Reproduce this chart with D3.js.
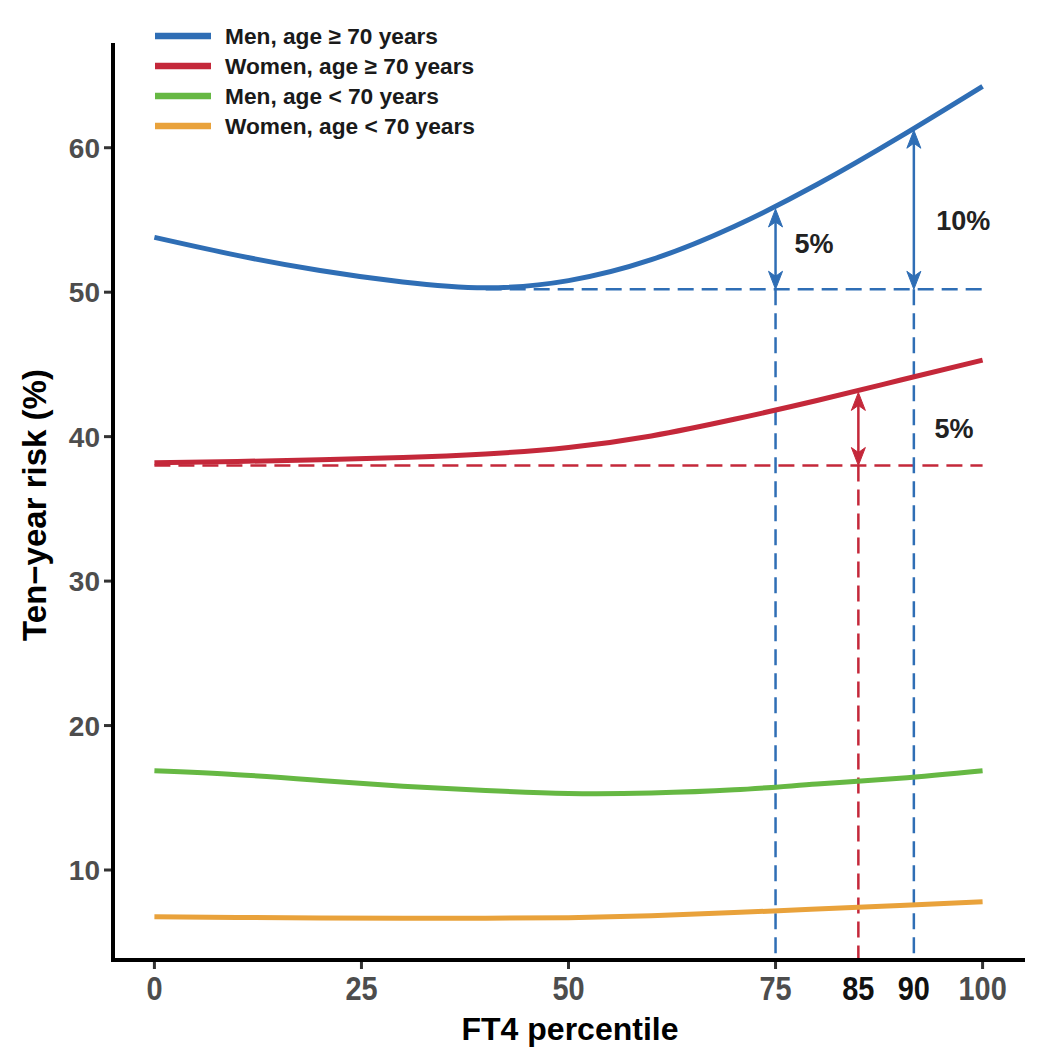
<!DOCTYPE html>
<html>
<head>
<meta charset="utf-8">
<script src="https://cdn.jsdelivr.net/npm/d3@7"></script>
<style>
  body { margin: 0; background: #fff; }
  svg text { font-family: Arial, "Liberation Sans", sans-serif; }
</style>
</head>
<body>
<svg id="chart" width="1047" height="1050"></svg>
<script>
// FT4 percentile grid
const pct = [0, 10, 20, 30, 40, 50, 60, 70, 80, 90, 100];

// ten-year risk (%) per group
const menOld   = [53.8, 52.55, 51.5, 50.7, 50.3, 50.8, 52.25, 54.55, 57.45, 60.75, 64.25];
const womenOld = [38.2, 38.28, 38.4, 38.55, 38.8, 39.25, 40.05, 41.2, 42.5, 43.9, 45.3];
const menYoung = [16.87, 16.6, 16.2, 15.8, 15.5, 15.3, 15.33, 15.55, 15.95, 16.35, 16.87];
const womenYoung = [6.77, 6.72, 6.68, 6.66, 6.66, 6.7, 6.84, 7.05, 7.3, 7.55, 7.8];

const groups = ["Men, age \u2265 70 years", "Women, age \u2265 70 years",
                "Men, age < 70 years", "Women, age < 70 years"];
const colors = ["#2F6EB5", "#C4283A", "#66B843", "#E9A23B"];
const series = [menOld, womenOld, menYoung, womenYoung];

const xTicks = [0, 25, 50, 75, 100];
const yTicks = [10, 20, 30, 40, 50, 60];

// reference levels and marked percentiles
const blueBase = 50.2, blueBaseFrom = 40;
const redBase = 38.0;
const markX = [75, 91.7, 85];          // where the arrows sit
const markLab = ["75", "90", "85"];
const markGroup = [0, 0, 1];
const markTop = [55.9, 61.35, 43.2];    // curve value at the mark
const noteText = ["5%", "10%", "5%"];
const noteX = [77.3, 94.4, 94.2];
const noteY = [52.7, 54.3, 39.9];

const svg = d3.select("#chart");
const x = d3.scaleLinear().domain([-5, 105]).range([113, 1024]);
const y = d3.scaleLinear().domain([3.77, 67.25]).range([960, 43]);

// dashed reference lines
const dash = "16,8";
svg.append("line")
  .attr("x1", x(blueBaseFrom)).attr("x2", x(100))
  .attr("y1", y(blueBase)).attr("y2", y(blueBase))
  .attr("stroke", colors[0]).attr("stroke-width", 2.5).attr("stroke-dasharray", dash);
svg.append("line")
  .attr("x1", x(0)).attr("x2", x(100))
  .attr("y1", y(redBase)).attr("y2", y(redBase))
  .attr("stroke", colors[1]).attr("stroke-width", 2.5).attr("stroke-dasharray", dash);

markX.forEach((mx, i) => {
  const base = markGroup[i] == 0 ? blueBase : redBase;
  svg.append("line")
    .attr("x1", x(mx)).attr("x2", x(mx))
    .attr("y1", y(base)).attr("y2", y.range()[0])
    .attr("stroke", colors[markGroup[i]]).attr("stroke-width", 2.5)
    .attr("stroke-dasharray", dash);
});

// curves
const line = d3.line()
  .x((d, i) => x(pct[i]))
  .y(d => y(d))
  .curve(d3.curveNatural);

series.forEach((s, i) => {
  svg.append("path")
    .attr("d", line(s))
    .attr("fill", "none")
    .attr("stroke", colors[i])
    .attr("stroke-width", 5)
    .attr("stroke-linecap", "butt");
});

// double arrows
function head(px, py, dir, col) {
  // dir = -1 points up, 1 points down
  const p = [[0, 0], [-7, -18 * dir], [0, -13 * dir], [7, -18 * dir]];
  svg.append("path")
    .attr("d", "M" + p.map(q => (px + q[0]) + "," + (py + q[1])).join("L") + "Z")
    .attr("fill", col).attr("stroke", col).attr("stroke-width", 1);
}
markX.forEach((mx, i) => {
  const col = colors[markGroup[i]];
  const base = markGroup[i] == 0 ? blueBase : redBase;
  const y0 = y(base), y1 = y(markTop[i]) + 2;
  svg.append("line")
    .attr("x1", x(mx)).attr("x2", x(mx))
    .attr("y1", y0 - 6).attr("y2", y1 + 6)
    .attr("stroke", col).attr("stroke-width", 2.5);
  head(x(mx), y1, -1, col);
  head(x(mx), y0, 1, col);
});

noteText.forEach((t, i) => {
  svg.append("text")
    .attr("x", x(noteX[i])).attr("y", y(noteY[i]))
    .attr("font-size", 27).attr("font-weight", "bold").attr("fill", "#222")
    .text(t);
});

// axes
svg.append("line").attr("x1", 113).attr("x2", 113).attr("y1", 43).attr("y2", 962)
  .attr("stroke", "#000").attr("stroke-width", 4);
svg.append("line").attr("x1", 111).attr("x2", 1025).attr("y1", 960).attr("y2", 960)
  .attr("stroke", "#000").attr("stroke-width", 4);

yTicks.forEach(t => {
  svg.append("line").attr("x1", 104).attr("x2", 111).attr("y1", y(t)).attr("y2", y(t))
    .attr("stroke", "#333").attr("stroke-width", 3);
  svg.append("text")
    .attr("x", 100).attr("y", y(t)).attr("dy", "0.36em")
    .attr("text-anchor", "end").attr("font-size", 28).attr("font-weight", "bold")
    .attr("fill", "#4D4D4D").text(t);
});

xTicks.forEach(t => {
  svg.append("line").attr("x1", x(t)).attr("x2", x(t)).attr("y1", 962).attr("y2", 969)
    .attr("stroke", "#333").attr("stroke-width", 3);
  svg.append("text")
    .attr("transform", `translate(${x(t)},1000) scale(0.85,1)`)
    .attr("text-anchor", "middle").attr("font-size", 34).attr("font-weight", "bold")
    .attr("fill", "#4D4D4D").text(t);
});
// extra labels for the marked percentiles (no tick marks)
markX.forEach((mx, i) => {
  if (markLab[i] == "75") return;
  svg.append("text")
    .attr("transform", `translate(${x(mx)},1000) scale(0.85,1)`)
    .attr("text-anchor", "middle").attr("font-size", 34).attr("font-weight", "bold")
    .attr("fill", "#111").text(markLab[i]);
});

svg.append("text")
  .attr("x", 570).attr("y", 1040)
  .attr("text-anchor", "middle").attr("font-size", 32).attr("font-weight", "bold")
  .attr("fill", "#000").text("FT4 percentile");
svg.append("text")
  .attr("transform", "translate(46,505) rotate(-90)")
  .attr("text-anchor", "middle").attr("font-size", 33).attr("font-weight", "bold")
  .attr("fill", "#000").text("Ten\u2212year risk (%)");

// legend
const leg = svg.append("g");
groups.forEach((g, i) => {
  const ly = 36 + i * 30;
  leg.append("line").attr("x1", 155).attr("x2", 211).attr("y1", ly).attr("y2", ly)
    .attr("stroke", colors[i]).attr("stroke-width", 6.5);
  leg.append("text").attr("x", 225).attr("y", ly).attr("dy", "0.36em")
    .attr("font-size", 22.7).attr("font-weight", "bold").attr("fill", "#1a1a1a").text(g);
});
</script>
</body>
</html>
